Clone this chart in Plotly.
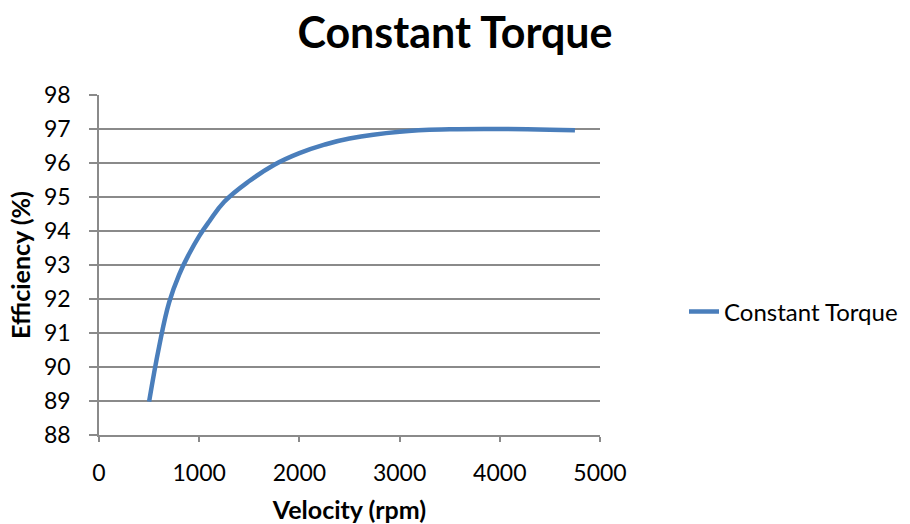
import plotly.graph_objects as go

velocity = [500, 600, 700, 800, 900, 1000, 1100, 1250, 1500, 1750, 2000, 2250, 2500, 3000, 3500, 4000, 4500, 4750]
efficiency = [88.98, 90.6, 91.9, 92.72, 93.33, 93.85, 94.28, 94.86, 95.47, 95.95, 96.29, 96.54, 96.72, 96.92, 96.99, 97.0, 96.98, 96.96]
series_name = "Constant Torque"
x_ticks = [0, 1000, 2000, 3000, 4000, 5000]
y_ticks = [88, 89, 90, 91, 92, 93, 94, 95, 96, 97, 98]

FONT = "Lato"
grid = "#8a8a8a"

fig = go.Figure()
fig.add_trace(go.Scatter(
    x=velocity, y=efficiency, mode="lines", name=series_name,
    line=dict(color="#4a7ebb", width=4.5, shape="spline", smoothing=1.2),
))

fig.update_layout(
    width=910, height=524,
    margin=dict(l=99, r=310, t=95, b=89, autoexpand=False),
    paper_bgcolor="white", plot_bgcolor="white",
    font=dict(family=FONT, color="black", size=23),
    title=dict(text="<b>Constant Torque</b>", x=0.5, xref="container", xanchor="center",
               y=1 - 33/524, yref="container", yanchor="middle",
               font=dict(family=FONT, size=43, color="black")),
    showlegend=True,
    legend=dict(x=(684 - 99) / 501, xanchor="left", y=(435 - 312) / 340, yanchor="middle",
                font=dict(family=FONT, size=24), bgcolor="rgba(0,0,0,0)"),
    xaxis=dict(range=[0, 5000], tickvals=x_ticks, ticks="outside", ticklen=5, tickcolor=grid,
               tickwidth=1.5, showgrid=False, zeroline=False, showline=True, linecolor=grid, linewidth=1.5,
               ticklabelstandoff=12,
               title=dict(text="<b>Velocity (rpm)</b>", font=dict(family=FONT, size=25), standoff=16),
               tickfont=dict(size=23)),
    yaxis=dict(range=[88, 98], tickvals=y_ticks, ticks="outside", ticklen=8, tickcolor=grid,
               tickwidth=1.5, showgrid=True, gridcolor=grid, gridwidth=1.5, zeroline=False,
               showline=True, linecolor=grid, linewidth=1.5,
               ticklabelstandoff=14,
               title=dict(text="<b>Efficiency (%)</b>", font=dict(family=FONT, size=25), standoff=6),
               tickfont=dict(size=23)),
)

fig.write_html("out.html")
